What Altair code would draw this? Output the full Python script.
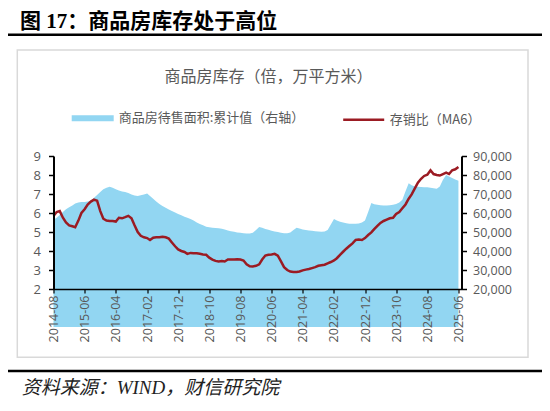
import altair as alt
import pandas as pd

# ---------------- data ----------------
months = pd.date_range("2014-08-01", periods=131, freq="MS").strftime("%Y/%m/%d").tolist()

# 商品房待售面积:累计值 (万平方米), right axis
stock_area = [
    56500, 57500, 59000, 60500, 62000, 63000, 64000, 65000, 65500, 65800,
    65800, 66000, 66500, 68000, 69500, 71000, 72500, 73300, 73800, 73300,
    72500, 71800, 71300, 71000, 70500, 69800, 69200, 69000, 69300, 69800,
    70300, 69000, 67500, 66000, 64800, 63700, 62700, 61800, 61000, 60300,
    59500, 58800, 58000, 57500, 56800, 56000, 55000, 54200, 53500, 52800,
    52500, 52300, 52100, 52000, 51700, 51300, 50800, 50400, 50100, 49800,
    49600, 49400, 49200, 49200, 49600, 51000, 52600, 52200, 51600, 51200,
    50700, 50300, 50000, 49600, 49400, 49400, 49800, 51000, 52200, 51800,
    51300, 51000, 50800, 50600, 50400, 50200, 50100, 50200, 51000, 54000,
    56800, 56000, 55400, 55000, 54600, 54400, 54300, 54300, 54500, 55000,
    56000, 60500, 65200, 64600, 64300, 64100, 64000, 64000, 64100, 64300,
    64800, 65500, 67000, 71500, 75600, 74600, 74000, 73800, 73700, 73600,
    73500, 73300, 73000, 72800, 74000, 77500, 80000, 79200, 78400, 77600, 77000,
]

# 存销比 (MA6), left axis
ratio_ma6 = [
    5.85, 6.05, 6.10, 5.75, 5.50, 5.35, 5.30, 5.25, 5.60, 6.00,
    6.20, 6.45, 6.60, 6.70, 6.65, 6.10, 5.70, 5.60, 5.58, 5.58,
    5.55, 5.75, 5.72, 5.78, 5.85, 5.72, 5.35, 5.00, 4.80, 4.72,
    4.68, 4.58, 4.70, 4.72, 4.72, 4.75, 4.72, 4.65, 4.45, 4.25,
    4.08, 4.00, 3.95, 3.85, 3.90, 3.88, 3.88, 3.85, 3.82, 3.80,
    3.65, 3.55, 3.48, 3.45, 3.47, 3.45, 3.55, 3.55, 3.55, 3.56,
    3.55, 3.50, 3.30, 3.20, 3.18, 3.22, 3.30, 3.55, 3.76, 3.80,
    3.82, 3.85, 3.75, 3.45, 3.15, 3.00, 2.92, 2.90, 2.90, 2.92,
    2.98, 3.02, 3.05, 3.10, 3.15, 3.22, 3.25, 3.28, 3.35, 3.42,
    3.50, 3.62, 3.80, 3.96, 4.12, 4.26, 4.40, 4.58, 4.60, 4.58,
    4.68, 4.84, 4.98, 5.15, 5.32, 5.48, 5.58, 5.65, 5.72, 5.75,
    5.95, 6.05, 6.25, 6.45, 6.75, 6.98, 7.30, 7.60, 7.80, 7.95,
    8.02, 8.25, 8.05, 8.00, 7.97, 8.05, 8.12, 8.05, 8.25, 8.30, 8.42,
]

tick_labels = ["2014-08", "2015-06", "2016-04", "2017-02", "2017-12", "2018-10", "2019-08",
               "2020-06", "2021-04", "2022-02", "2022-12", "2023-10", "2024-08", "2025-06"]
left_ticks = [2, 3, 4, 5, 6, 7, 8, 9]
right_ticks = [20000, 30000, 40000, 50000, 60000, 70000, 80000, 90000]

series_area = "商品房待售面积:累计值（右轴）"
series_line = "存销比（MA6）"
main_title = "图 17：商品房库存处于高位"
inner_title = "商品房库存（倍，万平方米）"
source_text = "资料来源：WIND，财信研究院"

BLUE = "#92D6F2"
RED = "#9B1B23"
GRAY = "#595959"
CJK = "Noto Sans CJK SC"
NUM = "Open Sans"

df = pd.DataFrame({"month": months, "stock": stock_area, "ratio": ratio_ma6})
df["s1"] = series_area
df["s2"] = series_line


def dt(label):
    y, m = label.split("-")
    return alt.DateTime(year=int(y), month=int(m), date=1)


x_enc = alt.X(
    "month:T",
    scale=alt.Scale(domain=[dt("2014-08"), dt("2025-07")], nice=False),
    axis=alt.Axis(
        values=[dt(t) for t in tick_labels], format="%Y-%m", labelAngle=270,
        labelFont=NUM, labelFontSize=12.5, labelColor=GRAY, labelPadding=2,
        labelOverlap=False, domainColor="black", domainWidth=1.5,
        tickColor="black", tickSize=4, tickWidth=1.2, grid=False, title=None, zindex=1,
    ),
)

base = alt.Chart(df).encode(x=x_enc)

area = base.mark_area(opacity=1).encode(
    y=alt.Y(
        "stock:Q",
        scale=alt.Scale(domain=[20000, 90000], zero=False, nice=False),
        axis=alt.Axis(
            orient="right", values=right_ticks, format=",d",
            labelFont=NUM, labelFontSize=12.5, labelColor=GRAY, labelPadding=6,
            domainColor="black", domainWidth=2, tickColor="black", tickSize=5,
            tickWidth=1.5, grid=False, title=None, zindex=1,
        ),
    ),
    fill=alt.Fill(
        "s1:N",
        scale=alt.Scale(domain=[series_area], range=[BLUE]),
        legend=alt.Legend(
            title=None, orient="none", legendX=18.2, legendY=-58.7, padding=0,
            symbolType="M-1,-0.14H1V0.14H-1Z", symbolSize=1764, symbolStrokeWidth=0,
            symbolOpacity=1, labelLimit=0,
            labelFont=CJK, labelFontSize=13, labelColor=GRAY, labelOffset=5,
        ),
    ),
)

line = base.mark_line(strokeWidth=2.5).encode(
    y=alt.Y(
        "ratio:Q",
        scale=alt.Scale(domain=[2, 9], zero=False, nice=False),
        axis=alt.Axis(
            orient="left", values=left_ticks,
            labelFont=NUM, labelFontSize=13, labelColor=GRAY, labelPadding=8,
            domainColor="black", domainWidth=2, tickColor="black", tickSize=5,
            tickWidth=1.5, grid=False, title=None, zindex=1,
        ),
    ),
    stroke=alt.Stroke(
        "s2:N",
        scale=alt.Scale(domain=[series_line], range=[RED]),
        legend=alt.Legend(
            title=None, orient="none", legendX=288.2, legendY=-58.2, padding=0,
            symbolType="stroke", symbolSize=1681, symbolStrokeWidth=2.5, labelLimit=0,
            labelFont=CJK, labelFontSize=13, labelColor=GRAY, labelOffset=4,
        ),
    ),
)

one = pd.DataFrame({"k": [0]})

box = alt.Chart(one).mark_rect(filled=False, stroke="#D9D9D9", strokeWidth=1.5).encode(
    x=alt.value(-36.2), x2=alt.value(474.5), y=alt.value(-106), y2=alt.value(201.3)
)
top_rule = alt.Chart(one).mark_rule(color="black", strokeWidth=2.5).encode(
    x=alt.value(-47.5), x2=alt.value(488.5), y=alt.value(-121.3)
)
bottom_rule = alt.Chart(one).mark_rule(color="black", strokeWidth=2.5).encode(
    x=alt.value(-47.5), x2=alt.value(488.5), y=alt.value(215)
)

t_main = alt.Chart(pd.DataFrame({"t": [main_title]})).mark_text(
    font="Liberation Serif, " + CJK, fontSize=21, fontWeight="bold", color="black",
    align="left", baseline="middle",
).encode(text="t:N", x=alt.value(-33.5), y=alt.value(-134.5))

t_inner = alt.Chart(pd.DataFrame({"t": [inner_title]})).mark_text(
    font=CJK, fontSize=16, color=GRAY, align="center", baseline="middle",
).encode(text="t:N", x=alt.value(215), y=alt.value(-79))

t_source = alt.Chart(pd.DataFrame({"t": [source_text]})).mark_text(
    font="Liberation Serif, " + CJK, fontSize=19, fontStyle="italic", color="#222222",
    align="left", baseline="middle",
).encode(text="t:N", x=alt.value(-31.8), y=alt.value(232))

chart = (
    alt.layer(box, area, line, top_rule, bottom_rule, t_main, t_inner, t_source)
    .resolve_scale(y="independent")
    .properties(
        width=408, height=133,
        autosize=alt.AutoSizeParams(type="none"),
        padding={"left": 45.5, "top": 148, "right": 80, "bottom": 108},
    )
    .configure_view(stroke=None)
)

chart.save("out.html", embed_options={"renderer": "svg", "actions": False})
